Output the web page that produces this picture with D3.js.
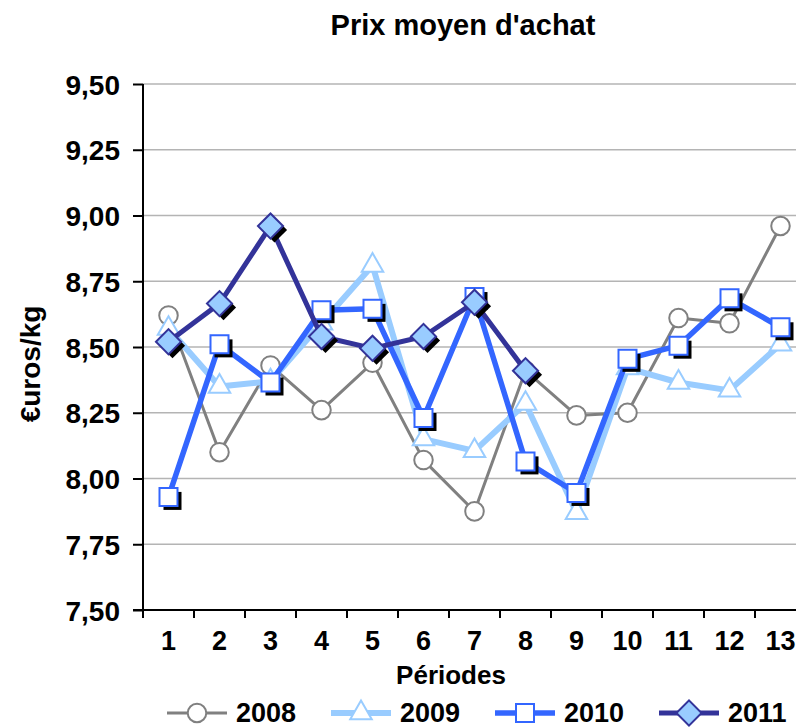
<!DOCTYPE html>
<html>
  <head>
    <meta charset="utf-8">
    <title>Prix moyen d'achat</title>
    <style>
      body { margin: 0; background: #fff; }
      svg { display: block; font-family: "Liberation Sans", Arial, sans-serif; font-weight: bold; }
    </style>
  </head>
  <body>
    <script src="https://d3js.org/d3.v7.min.js"></script>
    <script>
      const periods = ["1","2","3","4","5","6","7","8","9","10","11","12","13"]
      const yTicks = [7.5, 7.75, 8, 8.25, 8.5, 8.75, 9, 9.25, 9.5]
      const years = ["2008","2009","2010","2011"]
      const v2008 = [8.62, 8.10, 8.43, 8.26, 8.44, 8.07, 7.875, 8.41, 8.24, 8.25, 8.61, 8.59, 8.96]
      const v2009 = [8.57, 8.35, 8.37, 8.59, 8.81, 8.15, 8.105, 8.285, 7.87, 8.42, 8.365, 8.335, 8.51]
      const v2010 = [7.93, 8.51, 8.365, 8.64, 8.645, 8.23, 8.69, 8.065, 7.945, 8.455, 8.505, 8.685, 8.575]
      const v2011 = [8.52, 8.665, 8.96, 8.54, 8.495, 8.54, 8.67, 8.41]

      const w = 796, h = 728
      const margin = {left: 143, top: 84, bottom: 610}
      const band = 51

      const svg = d3.select("body").append("svg")
        .attr("width", w).attr("height", h)

      const x = d3.scaleBand().domain(periods)
        .range([margin.left, margin.left + band * periods.length])
      const y = d3.scaleLinear().domain([7.5, 9.5]).range([margin.bottom, margin.top])

      const fmt = d => d3.format(".2f")(d).replace(".", ",")

      // grid
      svg.append("g").selectAll("line")
        .data(yTicks.slice(1))
        .enter().append("line")
          .attr("x1", margin.left).attr("x2", w)
          .attr("y1", d => y(d)).attr("y2", d => y(d))
          .attr("stroke", "#b4b4b4").attr("stroke-width", 1.5)

      // y axis
      const yAxis = d3.axisLeft(y).tickValues(yTicks).tickFormat(fmt).tickSize(10).tickPadding(13)
      const gy = svg.append("g").attr("transform", "translate(" + margin.left + ",0)").call(yAxis)
      gy.select(".domain").attr("stroke-width", 2).attr("d", "M0," + margin.top + "V" + margin.bottom)
      gy.selectAll(".tick line").attr("stroke-width", 2)
      gy.selectAll("text").attr("font-size", 28).attr("font-family", null).attr("dy", "0.36em")

      // x axis: labels at band centres, tick marks between categories
      const gx = svg.append("g").attr("transform", "translate(0," + margin.bottom + ")")
      gx.append("line").attr("x1", margin.left - 10).attr("x2", w)
        .attr("stroke", "#000").attr("stroke-width", 2)
      gx.selectAll(".tk").data(periods).enter().append("line")
        .attr("x1", d => x(d)).attr("x2", d => x(d))
        .attr("y1", 0).attr("y2", 8)
        .attr("stroke", "#000").attr("stroke-width", 2)
      gx.selectAll(".lb").data(periods).enter().append("text")
        .attr("x", d => x(d) + x.bandwidth() / 2)
        .attr("y", 40)
        .attr("text-anchor", "middle")
        .attr("font-size", 27)
        .text(d => d)

      svg.append("text").attr("x", 463).attr("y", 35)
        .attr("text-anchor", "middle").attr("font-size", 29)
        .text("Prix moyen d'achat")
      svg.append("text").attr("x", 451).attr("y", 684)
        .attr("text-anchor", "middle").attr("font-size", 26)
        .text("Périodes")
      svg.append("text")
        .attr("transform", "translate(40," + ((margin.top + margin.bottom) / 2 + 17) + ") rotate(-90)")
        .attr("text-anchor", "middle").attr("font-size", 28)
        .text("€uros/kg")

      const series = [
        {name: "2008", values: v2008, color: "#808080", width: 3, symbol: d3.symbolCircle, size: 270,
         fill: "#fff", stroke: "#808080", rot: 0, shadow: false},
        {name: "2009", values: v2009, color: "#99ccff", width: 6, symbol: d3.symbolTriangle, size: 200,
         fill: "#fff", stroke: "#99ccff", rot: 0, shadow: false},
        {name: "2010", values: v2010, color: "#3366ff", width: 5.5, symbol: d3.symbolSquare, size: 324,
         fill: "#fff", stroke: "#3366ff", rot: 0, shadow: true},
        {name: "2011", values: v2011, color: "#333399", width: 5, symbol: d3.symbolSquare, size: 315,
         fill: "#99ccff", stroke: "#333399", rot: 45, shadow: true}
      ]

      const line = d3.line()
        .x((d, i) => x(periods[i]) + x.bandwidth() / 2)
        .y(d => y(d))

      series.forEach(s => {
        const g = svg.append("g")
        g.append("path").datum(s.values)
          .attr("d", line)
          .attr("fill", "none")
          .attr("stroke", s.color)
          .attr("stroke-width", s.width)
          .attr("stroke-linejoin", "round")
        const sym = d3.symbol().type(s.symbol).size(s.size)
        if (s.shadow) {
          g.selectAll(".sh").data(s.values).enter().append("path")
            .attr("d", sym)
            .attr("transform", (d, i) => "translate(" + (x(periods[i]) + x.bandwidth() / 2 + 4) + "," + (y(d) + 4) + ") rotate(" + s.rot + ")")
            .attr("fill", "#000")
        }
        g.selectAll(".mk").data(s.values).enter().append("path")
          .attr("d", sym)
          .attr("transform", (d, i) => "translate(" + (x(periods[i]) + x.bandwidth() / 2) + "," + y(d) + ") rotate(" + s.rot + ")")
          .attr("fill", s.fill)
          .attr("stroke", s.stroke)
          .attr("stroke-width", 2)
      })

      // legend
      const legend = svg.append("g").attr("transform", "translate(167,713)")
      const item = legend.selectAll("g").data(series).enter().append("g")
        .attr("transform", (d, i) => "translate(" + (i * 164) + ",0)")
      item.append("line").attr("x1", 0).attr("x2", 60)
        .attr("stroke", d => d.color).attr("stroke-width", d => d.width)
      item.append("path")
        .attr("d", d => d3.symbol().type(d.symbol).size(d.size)())
        .attr("transform", d => "translate(30,0) rotate(" + d.rot + ")")
        .attr("fill", d => d.fill).attr("stroke", d => d.stroke).attr("stroke-width", 2)
      item.append("text").attr("x", 69).attr("y", 9)
        .attr("font-size", 27)
        .text(d => d.name)
    </script>
  </body>
</html>
